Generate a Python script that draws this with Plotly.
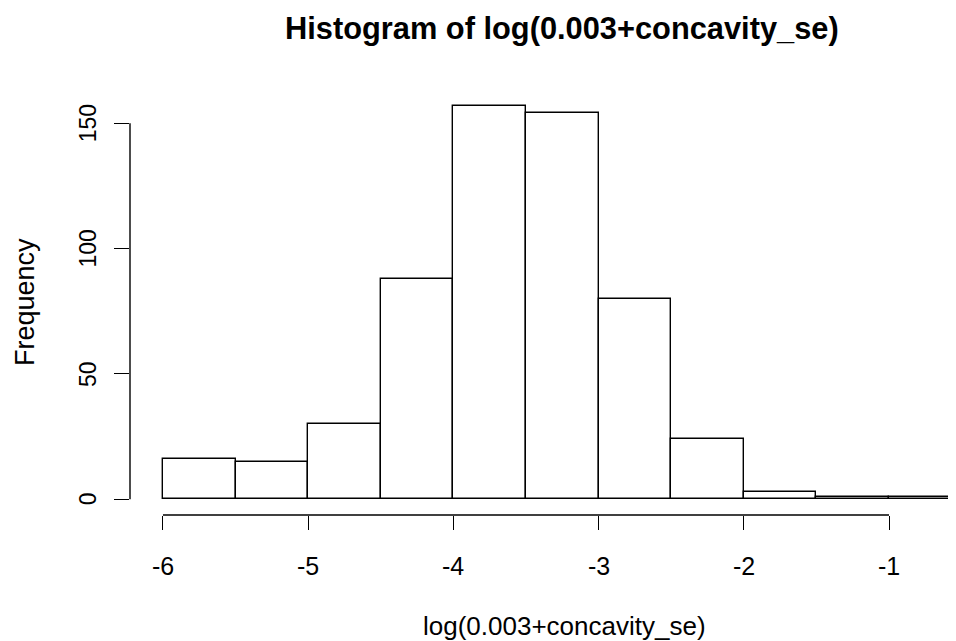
import plotly.graph_objects as go

# Data
bin_edges = [-6.0, -5.5, -5.0, -4.5, -4.0, -3.5, -3.0, -2.5, -2.0, -1.5, -1.0, -0.5]
counts = [16, 15, 30, 88, 157, 154, 80, 24, 3, 1, 1]
x_ticks = [-6, -5, -4, -3, -2, -1]
x_tick_labels = ["-6", "-5", "-4", "-3", "-2", "-1"]
y_ticks = [0, 50, 100, 150]
y_tick_labels = ["0", "50", "100", "150"]
title_text = "Histogram of log(0.003+concavity_se)"
x_title = "log(0.003+concavity_se)"
y_title = "Frequency"

# page is offset by the 8px body margin, so the figure is drawn 8px smaller
OFF = 8
W, H = 956 - OFF, 641 - OFF
ML, MR, MT = 130 - OFF, 0, 90 - OFF
MB = H - (515 - OFF)
FONT = "Liberation Sans, Arial, sans-serif"
XLAB = 25
YLAB = 23
AXT = 26
YAXT = 27
TIT = 30.8

centers = [(a + b) / 2 for a, b in zip(bin_edges[:-1], bin_edges[1:])]
widths = [b - a for a, b in zip(bin_edges[:-1], bin_edges[1:])]

fig = go.Figure()
fig.add_trace(go.Bar(
    x=centers, y=counts, width=widths,
    marker=dict(color="white", line=dict(color="black", width=1.4)),
    hoverinfo="x+y", showlegend=False,
))

xr = [-6.227, -0.5386]
yr = [-6.28, 163.28]

def ypix_to_paper(py):
    py -= OFF
    return 1 - (py - MT) / (H - MT - MB)

def xpix_to_paper(px):
    px -= OFF
    return (px - ML) / (W - ML - MR)

ann = []
for v, t in zip(x_ticks, x_tick_labels):
    ann.append(dict(x=v, y=ypix_to_paper(566), xref="x", yref="paper", text=t,
                    showarrow=False, xanchor="center", yanchor="middle",
                    font=dict(family=FONT, size=XLAB, color="black")))
for v, t in zip(y_ticks, y_tick_labels):
    ann.append(dict(x=xpix_to_paper(88), y=v, xref="paper", yref="y", text=t,
                    showarrow=False, xanchor="center", yanchor="middle", textangle=-90,
                    font=dict(family=FONT, size=YLAB, color="black")))
ann.append(dict(x=xpix_to_paper(562), y=ypix_to_paper(29), xref="paper", yref="paper",
                text="<b>" + title_text + "</b>", showarrow=False,
                xanchor="center", yanchor="middle",
                font=dict(family=FONT, size=TIT, color="black")))
ann.append(dict(x=xpix_to_paper(564), y=ypix_to_paper(626), xref="paper", yref="paper",
                text=x_title, showarrow=False, xanchor="center", yanchor="middle",
                font=dict(family=FONT, size=AXT, color="black")))
ann.append(dict(x=xpix_to_paper(25), y=ypix_to_paper(302), xref="paper", yref="paper",
                text=y_title, showarrow=False, xanchor="center", yanchor="middle",
                textangle=-90, font=dict(family=FONT, size=YAXT, color="black")))

shapes = [
    dict(type="line", xref="x", yref="paper", x0=x_ticks[0], x1=x_ticks[-1], y0=0, y1=0,
         line=dict(color="black", width=1.4)),
    dict(type="line", xref="paper", yref="y", x0=0, x1=0, y0=y_ticks[0], y1=y_ticks[-1],
         line=dict(color="black", width=1.4)),
]

fig.update_layout(
    width=W, height=H,
    margin=dict(l=ML, r=MR, t=MT, b=MB, pad=0),
    paper_bgcolor="white", plot_bgcolor="white",
    bargap=0,
    annotations=ann, shapes=shapes,
    xaxis=dict(range=xr, tickvals=x_ticks, showticklabels=False, ticks="outside",
               ticklen=14, tickwidth=1.4, tickcolor="black", showgrid=False,
               zeroline=False, showline=False, fixedrange=True),
    yaxis=dict(range=yr, tickvals=y_ticks, showticklabels=False, ticks="outside",
               ticklen=15, tickwidth=1.4, tickcolor="black", showgrid=False,
               zeroline=False, showline=False, fixedrange=True),
)

fig.write_html("out.html")
